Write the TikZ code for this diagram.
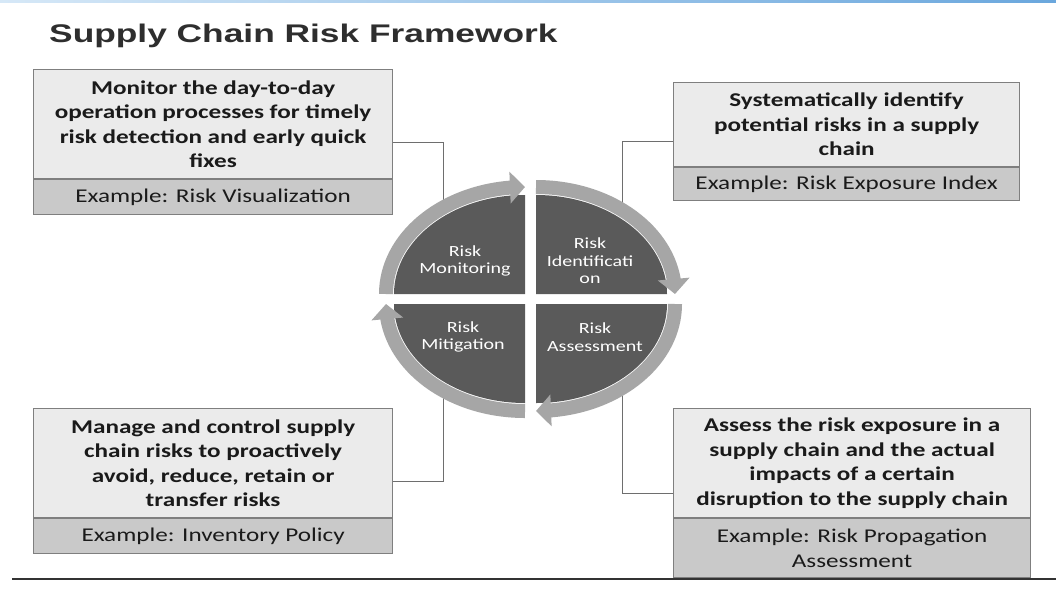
\documentclass[tikz,border=0pt]{standalone}
\usepackage{fontspec}
\usetikzlibrary{arrows.meta,bending,calc}

% Fonts: wide sans title, wide Calibri-metric body text
\newfontfamily\titlefont{Liberation Sans}[FakeStretch=1.385]
\newfontfamily\boxfont{Carlito}[FakeStretch=1.29]

\definecolor{titlegray}{HTML}{2E2E2E}
\definecolor{boxtop}{HTML}{EBEBEB}
\definecolor{boxbottom}{HTML}{C9C9C9}
\definecolor{boxline}{HTML}{7F7F7F}
\definecolor{boxtext}{HTML}{1A1A1A}
\definecolor{ringgray}{HTML}{A6A6A6}
\definecolor{quadgray}{HTML}{5A5A5A}
\definecolor{connline}{HTML}{6E6E6E}
\definecolor{rulecolor}{HTML}{333333}
\definecolor{bandlight}{HTML}{D6E8F7}
\definecolor{banddark}{HTML}{6AA7DD}

\tikzset{
  descbox/.style={draw=boxline, fill=boxtop, line width=1.2pt, anchor=north west,
    inner sep=0pt, align=center, text=boxtext,
    font=\boxfont\bfseries\fontsize{19.5}{24.5}\selectfont},
  examplebox/.style={draw=boxline, fill=boxbottom, line width=1.2pt, anchor=north west,
    inner sep=0pt, align=center, text=boxtext,
    font=\boxfont\fontsize{19.5}{24.5}\selectfont},
  connector/.style={draw=connline, line width=1pt},
  quadfill/.style={fill=quadgray},
  cyclearrow/.style={draw=ringgray, line width=14pt,
    -{Triangle[width=31pt,length=15pt]}},
  quadlabel/.style={text=white, align=center, inner sep=0pt,
    font=\boxfont\fontsize{15.5}{17.5}\selectfont},
}

\begin{document}
\begin{tikzpicture}[x=1pt,y=1pt]
  % canvas
  \fill[white] (0,0) rectangle (1056,-590);
  \useasboundingbox (0,0) rectangle (1056,-590);

  % top colour band and bottom rule
  \shade[left color=bandlight, right color=banddark] (0,0) rectangle (1056,-2);
  \draw[rulecolor, line width=2.5pt] (12,-579) -- (1056,-579);

  % title
  \node[anchor=base west, inner sep=0pt, text=titlegray,
        font=\titlefont\bfseries\fontsize{25.5}{30}\selectfont] (title) at (49,-42)
        {Supply Chain Risk Framework};

  % description boxes
  \node[descbox, minimum width=359pt, minimum height=109pt] (monDesc) at (33,-69)
    {Monitor the day-to-day\\operation processes for timely\\risk detection and early quick\\fixes};
  \node[examplebox, minimum width=359pt, minimum height=35pt] (monEx) at (monDesc.south west)
    {Example: Risk Visualization};

  \node[descbox, minimum width=346pt, minimum height=84pt] (idDesc) at (673,-82)
    {Systematically identify\\potential risks in a supply\\chain};
  \node[examplebox, minimum width=346pt, minimum height=33pt] (idEx) at (idDesc.south west)
    {Example: Risk Exposure Index};

  \node[descbox, minimum width=359pt, minimum height=109pt] (mitDesc) at (33,-408)
    {Manage and control supply\\chain risks to proactively\\avoid, reduce, retain or\\transfer risks};
  \node[examplebox, minimum width=359pt, minimum height=35pt] (mitEx) at (mitDesc.south west)
    {Example: Inventory Policy};

  \node[descbox, minimum width=357pt, minimum height=109pt] (assDesc) at (673,-408)
    {Assess the risk exposure in a\\supply chain and the actual\\impacts of a certain\\disruption to the supply chain};
  \node[examplebox, minimum width=357pt, minimum height=59pt] (assEx) at (assDesc.south west)
    {Example: Risk Propagation\\Assessment};

  % quadrant corners of the cycle
  \coordinate (c1) at (525,-294);
  \coordinate (c2) at (536,-294);
  \coordinate (c3) at (536,-304);
  \coordinate (c4) at (525,-304);

  % connector end points on the ring
  \coordinate (monRing) at (443,-200);
  \coordinate (idRing)  at (622,-203);
  \coordinate (mitRing) at (443,-398);
  \coordinate (assRing) at (622,-396);

  % connectors from boxes to the cycle
  \draw[connector] ($(monDesc.north east)!0.5!(monEx.south east)$) -| (monRing);
  \draw[connector] ($(idDesc.north west)!0.5!(idEx.south west)$) -| (idRing);
  \draw[connector] ($(mitDesc.north east)!0.5!(mitEx.south east)$) -| (mitRing);
  \draw[connector] ($(assDesc.north west)!0.5!(assEx.south west)$) -| (assRing);

  % dark quadrants
  \fill[quadfill] (c1) -- ++(-131,0) arc[start angle=180, end angle=90, x radius=131, y radius=99] -- cycle;
  \fill[quadfill] (c2) -- ++(0,99) arc[start angle=90, end angle=0, x radius=131, y radius=99] -- cycle;
  \fill[quadfill] (c3) -- ++(131,0) arc[start angle=0, end angle=-90, x radius=131, y radius=99] -- cycle;
  \fill[quadfill] (c4) -- ++(0,-99) arc[start angle=-90, end angle=-180, x radius=131, y radius=99] -- cycle;

  % clockwise ring arrows
  \draw[cyclearrow] ($(c1)+(-139,0)$) arc[start angle=180, end angle=90, x radius=139, y radius=107];
  \draw[cyclearrow] ($(c2)+(0,107)$) arc[start angle=90, end angle=0, x radius=139, y radius=107];
  \draw[cyclearrow] ($(c3)+(139,0)$) arc[start angle=0, end angle=-90, x radius=139, y radius=107];
  \draw[cyclearrow] ($(c4)+(0,-107)$) arc[start angle=-90, end angle=-180, x radius=139, y radius=107];

  % quadrant labels
  \node[quadlabel] (monLabel) at (465,-261) {Risk\\Monitoring};
  \node[quadlabel] (idLabel)  at (590,-261) {Risk\\Identificati\\on};
  \node[quadlabel] (mitLabel) at (463,-337) {Risk\\Mitigation};
  \node[quadlabel] (assLabel) at (595,-337) {Risk\\Assessment};
\end{tikzpicture}
\end{document}
